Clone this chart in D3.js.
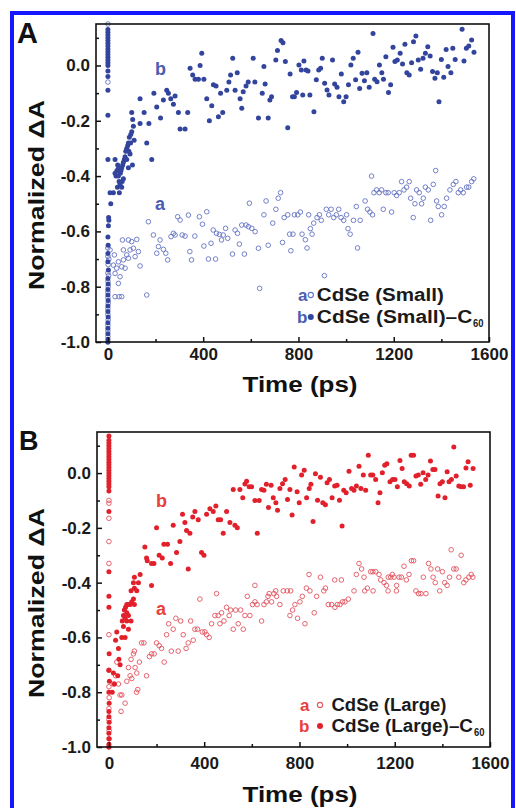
<!DOCTYPE html>
<html><head><meta charset="utf-8">
<script src="https://cdn.jsdelivr.net/npm/d3@7"></script>
<style>
html,body{margin:0;padding:0;background:#fff;}
svg{display:block;}
text{font-family:"Liberation Sans",Arial,Helvetica,sans-serif;font-weight:bold;}
</style>
</head><body><div id="chart"></div>
<script>
// ---------- axis ticks ----------
const timeTicks = [0, 400, 800, 1200, 1600];
const timeMinorTicks = [200, 600, 1000, 1400];
const dATicks = [-1.0, -0.8, -0.6, -0.4, -0.2, 0.0];
const dAMinorTicks = [-0.9, -0.7, -0.5, -0.3, -0.1, 0.1];
const timeDomain = [-50, 1600];
const dADomain = [-1.0, 0.15];

// ---------- legend labels ----------
const legendSmall = ["CdSe (Small)", "CdSe (Small)\u2013C", "60"];
const legendLarge = ["CdSe (Large)", "CdSe (Large)\u2013C", "60"];
const seriesLetters = ["a", "b"];

// ---------- Panel A: CdSe (Small), open circles (a) [time ps, normalized dA] ----------
const smallOpen = [
[0,0.15],[0,-0.06],[0,-0.66],[0,-0.69],[1,-0.72],[0,-0.75],[0,-0.78],[1,-0.80],[0,-0.82],[0,-0.84],[1,-0.86],[0,-0.88],[0,-0.90],[1,-0.92],[0,-0.94],[0,-0.96],[0,-0.98],[0,-1.0],[3,-0.76],[4,-0.70],
[9,-0.667],[27,-0.685],[23,-0.722],[30,-0.752],[37,-0.733],[44,-0.71],[44,-0.788],[51,-0.764],[58,-0.728],[65,-0.703],[72,-0.733],[61,-0.631],[65,-0.667],[86,-0.631],[93,-0.667],[100,-0.637],[107,-0.661],[121,-0.629],[114,-0.691],[86,-0.697],[128,-0.673],[135,-0.725],[30,-0.836],[47,-0.836],[58,-0.836],[79,-0.685],[163,-0.83],[170,-0.565],[191,-0.613],[205,-0.679],[212,-0.655],[219,-0.631],[233,-0.665],[243,-0.679],[251,-0.703],[265,-0.619],[275,-0.607],[282,-0.613],[293,-0.547],[303,-0.559],[312,-0.613],
[324,-0.617],[338,-0.541],[344,-0.673],[351,-0.703],[365,-0.617],[384,-0.547],[397,-0.574],[403,-0.653],[415,-0.529],[422,-0.70],[433,-0.643],[442,-0.595],[452,-0.70],[456,-0.607],[468,-0.611],[477,-0.631],[484,-0.613],[494,-0.589],[503,-0.625],[523,-0.682],[534,-0.595],[544,-0.607],[552,-0.646],[562,-0.577],[573,-0.682],[580,-0.577],[590,-0.583],[594,-0.498],[604,-0.589],[618,-0.601],[632,-0.661],[637,-0.806],
[655,-0.54],[664,-0.49],[673,-0.65],[692,-0.57],[705,-0.52],[715,-0.48],[725,-0.46],[733,-0.64],[740,-0.55],[755,-0.54],[763,-0.61],[768,-0.67],[777,-0.61],[783,-0.54],[797,-0.54],[808,-0.53],[815,-0.61],[829,-0.63],[836,-0.66],[843,-0.54],[850,-0.59],[857,-0.61],[864,-0.57],[878,-0.55],[888,-0.54],[896,-0.56],[909,-0.76],[917,-0.52],[927,-0.54],[937,-0.52],[948,-0.55],[959,-0.54],[969,-0.52],[979,-0.55],[990,-0.56],[1002,-0.54],[1008,-0.59],[1017,-0.61],[1031,-0.56],[1043,-0.51],[1048,-0.66],[1059,-0.56],[1080,-0.49],[1090,-0.52],[1100,-0.53],[1107,-0.40],[1111,-0.54],[1117,-0.46],[1128,-0.45],[1139,-0.46],[1149,-0.45],[1156,-0.52],[1167,-0.46],[1177,-0.46],[1191,-0.53],[1202,-0.46],[1212,-0.47],[1223,-0.46],[1233,-0.42],[1243,-0.45],[1254,-0.44],[1265,-0.42],[1271,-0.48],[1282,-0.55],[1289,-0.50],[1296,-0.45],[1307,-0.46],[1317,-0.50],[1324,-0.48],[1333,-0.44],[1345,-0.45],[1355,-0.56],[1366,-0.43],[1376,-0.38],[1380,-0.49],[1387,-0.51],[1401,-0.54],[1412,-0.51],[1422,-0.48],[1436,-0.45],[1450,-0.43],[1461,-0.42],[1471,-0.46],[1481,-0.45],[1492,-0.46],[1506,-0.44],[1515,-0.44],[1527,-0.42],[1536,-0.41]
];

// ---------- Panel A: CdSe (Small)-C60, filled dots (b) ----------
const smallFilled = [
[0,0.13],[0,0.12],[0,0.11],[0,0.10],[0,0.09],[0,0.08],[0,0.07],[0,0.06],[0,0.05],[0,0.04],[0,0.03],[0,0.02],[0,0.01],[0,0.0],[0,-0.02],[0,-0.04],[0,-0.09],[0,-0.18],[0,-0.34],[9,-0.46],[12,-0.50],[3,-0.55],[4,-0.56],[2,-0.58],[0,-0.62],[1,-0.65],[0,-0.68],[0,-0.71],[2,-0.74],[0,-0.77],[1,-0.79],[0,-0.81],[0,-0.83],[1,-0.85],[0,-0.87],[0,-0.89],[1,-0.91],[0,-0.93],[0,-0.95],[0,-0.97],[0,-0.99],[0,-1.0],
[23,-0.46],[30,-0.34],[41,-0.36],[30,-0.39],[34,-0.40],[44,-0.40],[47,-0.42],[55,-0.38],[58,-0.37],[65,-0.35],[69,-0.34],[75,-0.31],[79,-0.30],[83,-0.29],[86,-0.28],[90,-0.26],[96,-0.25],[100,-0.24],[107,-0.22],[79,-0.34],[86,-0.37],[103,-0.36],[93,-0.32],[51,-0.43],[58,-0.44],[48,-0.46],[65,-0.41],[38,-0.38],[52,-0.39],[62,-0.36],[72,-0.33],[88,-0.31],[95,-0.28],[60,-0.42],[40,-0.44],[45,-0.37],[110,-0.27],
[100,-0.17],[104,-0.195],[135,-0.12],[135,-0.21],[152,-0.17],[163,-0.28],[172,-0.21],[184,-0.34],[193,-0.10],[205,-0.15],[221,-0.19],[233,-0.125],[247,-0.09],[254,-0.10],[264,-0.12],[275,-0.14],[282,-0.11],[296,-0.17],[303,-0.23],[324,-0.23],[335,-0.17],[345,-0.01],[356,-0.034],[366,-0.05],[380,-0.05],[387,0.0],[394,0.044],[403,-0.05],[415,-0.12],[426,-0.20],[436,-0.146],[443,-0.07],[454,-0.074],[464,-0.185],[473,-0.10],[482,-0.17],[499,-0.09],[508,-0.06],[515,-0.034],[524,0.026],[534,-0.09],[543,-0.026],[555,-0.12],[562,-0.155],[568,-0.095],[580,-0.074],[589,-0.06],[610,0.026],[617,-0.06],[632,-0.19],
[648,-0.10],[655,-0.004],[660,-0.067],[673,-0.19],[680,-0.125],[687,-0.113],[705,0.02],[712,0.054],[727,0.09],[735,0.082],[745,0.014],[755,-0.225],[765,-0.031],[775,-0.113],[783,-0.113],[792,-0.098],[802,0.002],[812,-0.016],[818,-0.107],[823,0.016],[832,-0.016],[840,-0.02],[848,-0.107],[865,-0.167],[875,-0.052],[885,-0.016],[893,-0.01],[900,0.026],[910,-0.064],[920,-0.089],[928,-0.107],[943,0.02],[952,-0.067],[962,-0.079],[970,-0.113],[980,-0.031],[990,-0.131],[1000,-0.113],[1010,-0.07],[1020,0.002],[1030,0.026],[1040,-0.052],[1050,0.048],[1057,-0.083],[1067,-0.028],[1077,-0.055],[1087,-0.026],[1097,-0.079],[1113,0.116],[1120,-0.05],[1130,-0.059],[1140,0.002],[1150,-0.026],[1157,-0.05],[1167,0.032],[1178,-0.098],[1187,-0.07],[1197,0.066],[1205,0.014],[1215,0.02],[1227,0.044],[1237,0.005],[1247,0.077],[1255,-0.026],[1265,-0.034],[1275,0.01],[1283,0.086],[1293,0.107],[1303,0.02],[1313,-0.014],[1323,0.026],[1333,0.044],[1343,0.068],[1353,0.034],[1363,-0.022],[1373,-0.046],[1383,-0.026],[1390,-0.131],[1400,0.022],[1410,-0.043],[1420,0.058],[1428,-0.004],[1440,-0.026],[1448,0.062],[1458,0.022],[1487,0.131],[1495,0.016],[1505,0.062],[1515,0.07],[1527,0.092],[1537,0.048]
];

// ---------- Panel B: CdSe (Large), open circles (a) ----------
const largeOpen = [
[0,-0.10],[0,-0.11],[0,-0.165],[0,-0.25],[0,-0.33],[0,-0.59],[0,-0.72],[0,-0.78],[1,-0.82],[0,-0.86],[0,-0.90],[1,-0.94],[0,-0.97],[0,-1.0],
[33,-0.69],[28,-0.74],[19,-0.77],[40,-0.77],[47,-0.81],[54,-0.81],[51,-0.87],[68,-0.84],[75,-0.76],[82,-0.71],[89,-0.74],[96,-0.75],[93,-0.68],[103,-0.66],[107,-0.65],[110,-0.71],[117,-0.73],[121,-0.79],[116,-0.80],[128,-0.69],[137,-0.62],
[147,-0.62],[158,-0.74],[170,-0.67],[179,-0.66],[190,-0.66],[200,-0.62],[211,-0.63],[221,-0.64],[232,-0.69],[242,-0.59],[251,-0.55],[262,-0.65],[270,-0.57],[281,-0.53],[291,-0.65],[301,-0.54],[312,-0.59],
[324,-0.64],[333,-0.62],[343,-0.54],[354,-0.61],[361,-0.57],[372,-0.57],[382,-0.46],[392,-0.58],[403,-0.58],[410,-0.59],[421,-0.60],[431,-0.55],[445,-0.52],[452,-0.44],[459,-0.52],[466,-0.55],[473,-0.51],[483,-0.54],[494,-0.49],[505,-0.52],[511,-0.50],[522,-0.57],[532,-0.50],[543,-0.55],[553,-0.50],[564,-0.57],[571,-0.52],[581,-0.45],[592,-0.52],[603,-0.48],[613,-0.47],
[613,-0.41],[622,-0.48],[641,-0.54],[651,-0.48],[661,-0.47],[668,-0.45],[673,-0.44],[683,-0.47],[693,-0.44],[700,-0.43],[704,-0.45],[718,-0.48],[732,-0.43],[749,-0.43],[760,-0.52],[763,-0.43],[771,-0.50],[781,-0.48],[792,-0.53],[802,-0.47],[812,-0.45],[823,-0.55],[829,-0.42],[840,-0.37],[844,-0.43],[862,-0.51],[872,-0.45],[888,-0.38],[902,-0.43],[909,-0.42],[921,-0.48],[935,-0.48],[948,-0.39],[949,-0.49],[959,-0.48],[970,-0.48],[976,-0.39],[981,-0.47],[991,-0.47],[1005,-0.46],
[1029,-0.43],[1039,-0.37],[1050,-0.33],[1061,-0.35],[1071,-0.38],[1074,-0.43],[1085,-0.42],[1099,-0.36],[1108,-0.36],[1109,-0.43],[1120,-0.36],[1134,-0.37],[1141,-0.39],[1155,-0.40],[1165,-0.41],[1172,-0.43],[1173,-0.38],[1183,-0.38],[1190,-0.37],[1197,-0.38],[1207,-0.43],[1208,-0.41],[1218,-0.38],[1228,-0.38],[1239,-0.34],[1249,-0.39],[1260,-0.37],[1270,-0.32],[1279,-0.32],[1289,-0.43],[1300,-0.44],[1310,-0.44],[1320,-0.38],[1331,-0.44],[1342,-0.33],[1352,-0.35],[1361,-0.38],[1370,-0.40],[1380,-0.35],[1389,-0.43],[1400,-0.36],[1410,-0.40],[1420,-0.41],[1430,-0.38],[1437,-0.28],[1448,-0.35],[1458,-0.35],[1469,-0.38],[1479,-0.30],[1490,-0.40],[1499,-0.39],[1511,-0.38],[1521,-0.37],[1528,-0.38]
];

// ---------- Panel B: CdSe (Large)-C60, filled dots (b) ----------
const largeFilled = [
[0,0.135],[0,0.12],[0,0.11],[0,0.10],[0,0.09],[0,0.08],[0,0.07],[0,0.06],[0,0.05],[0,0.04],[0,0.03],[0,0.02],[0,0.01],[0,0.0],[0,-0.01],[0,-0.02],[0,-0.03],[0,-0.04],[0,-0.05],[0,-0.065],[0,-0.14],[0,-0.36],[0,-0.45],[0,-0.49],[1,-0.66],[0,-0.72],[2,-0.76],[0,-0.80],[1,-0.84],[0,-0.87],[0,-0.89],[1,-0.91],[0,-0.93],[0,-0.95],[1,-0.97],[0,-0.99],[0,-1.0],
[14,-0.80],[19,-0.73],[23,-0.77],[28,-0.61],[33,-0.58],[37,-0.74],[40,-0.64],[42,-0.68],[47,-0.70],[54,-0.60],[68,-0.60],[56,-0.54],[61,-0.52],[65,-0.50],[70,-0.49],[75,-0.48],[82,-0.48],[89,-0.48],[96,-0.47],[103,-0.46],[107,-0.48],[61,-0.56],[75,-0.54],[82,-0.52],[93,-0.54],[82,-0.57],[68,-0.53],[75,-0.51],[93,-0.43],[107,-0.42],[117,-0.43],[103,-0.40],[107,-0.38],[124,-0.40],[131,-0.37],
[151,-0.27],[158,-0.31],[161,-0.32],[179,-0.33],[189,-0.33],[179,-0.41],[200,-0.20],[211,-0.30],[224,-0.31],[231,-0.26],[246,-0.26],[259,-0.33],[270,-0.19],[284,-0.29],[298,-0.25],[309,-0.15],[319,-0.18],[326,-0.21],[333,-0.35],[340,-0.22],[352,-0.16],[361,-0.14],[375,-0.17],[389,-0.29],[399,-0.30],[410,-0.15],[424,-0.13],[438,-0.14],[449,-0.12],[459,-0.17],[469,-0.17],[480,-0.22],[494,-0.14],[508,-0.18],[522,-0.06],[529,-0.19],[539,-0.20],[550,-0.06],[562,-0.09],[571,-0.04],[578,-0.03],[589,-0.05],[599,-0.05],[613,-0.10],[623,-0.22],
[631,-0.10],[641,-0.06],[651,-0.063],[661,-0.041],[670,-0.126],[681,-0.044],[690,-0.09],[701,-0.108],[708,-0.136],[718,-0.056],[729,-0.039],[740,-0.023],[750,-0.096],[760,-0.06],[769,-0.153],[778,0.022],[790,-0.068],[799,-0.108],[809,-0.007],[820,0.01],[830,-0.09],[841,-0.056],[848,-0.041],[857,-0.177],[867,-0.002],[876,-0.099],[888,-0.015],[898,-0.108],[909,-0.116],[916,-0.035],[926,-0.023],[937,-0.09],[948,-0.047],[958,-0.044],[968,-0.099],[979,-0.193],[986,-0.063],[996,-0.072],[1008,0.007],[1019,-0.056],[1029,-0.063],[1039,-0.047],[1050,0.025],[1058,-0.056],[1068,-0.007],[1078,-0.063],[1089,0.065],[1099,-0.007],[1108,-0.007],[1120,-0.023],[1130,-0.108],[1138,-0.072],[1148,0.001],[1158,0.029],[1167,0.034],[1180,-0.032],[1191,-0.023],[1201,-0.023],[1211,-0.05],[1222,0.046],[1231,0.017],[1240,-0.032],[1250,-0.039],[1261,-0.047],[1269,0.065],[1279,0.065],[1289,-0.011],[1299,-0.007],[1309,-0.041],[1319,0.001],[1330,-0.023],[1340,-0.007],[1350,0.044],[1360,0.013],[1369,0.013],[1382,-0.084],[1390,-0.039],[1400,-0.032],[1411,-0.09],[1420,0.005],[1428,-0.032],[1438,-0.023],[1448,0.095],[1458,-0.011],[1469,-0.047],[1479,-0.05],[1489,-0.05],[1499,0.019],[1508,0.041],[1517,-0.044],[1529,0.017]
];

// ---------- drawing ----------
const W = 516, H = 808;
const svg = d3.select("#chart").append("svg").attr("width", W).attr("height", H);
svg.append("rect").attr("width", W).attr("height", H).attr("fill", "#fff");
svg.append("rect").attr("x", 12).attr("y", 13).attr("width", 501).attr("height", 840)
  .attr("fill", "none").attr("stroke", "#1717ff").attr("stroke-width", 4);

const panels = [
  { letter: "A", open: smallOpen, filled: smallFilled, legend: legendSmall,
    fill: "#33449d", stroke: "#6473c2", label: "#4b5cb2",
    box: { l: 96, r: 489, t: 24, b: 342 }, xPad: 6,
    letterPos: [17, 43], letterSize: 29, titleY: 392, yTitleC: 195,
    aPos: [155, 210], bPos: [155, 75],
    lg: { aEnd: 307.5, mx: 310.8, tx: 316.8, y1: 301, y2: 323, len1: 127, len2: 155.5, subX: 473 } },
  { letter: "B", open: largeOpen, filled: largeFilled, legend: legendLarge,
    fill: "#e1202c", stroke: "#e2545f", label: "#e8403c",
    box: { l: 97, r: 490, t: 432, b: 747 }, xPad: 10,
    letterPos: [19, 450], letterSize: 27, titleY: 802, yTitleC: 603,
    aPos: [156, 615], bPos: [156, 507],
    lg: { aEnd: 309.5, mx: 320, tx: 331.5, y1: 711, y2: 732, len1: 115, len2: 141.5, subX: 474 } }
];

panels.forEach(p => {
  const g = svg.append("g");
  const b = p.box;
  const x = d3.scaleLinear().domain(timeDomain).range([b.l, b.r]);
  const y = d3.scaleLinear().domain(dADomain).range([b.b, b.t]);

  // points: open circles then filled dots
  g.append("g").selectAll("circle").data(p.open).join("circle")
    .attr("cx", d => x(d[0])).attr("cy", d => y(d[1])).attr("r", 2.3)
    .attr("fill", "none").attr("stroke", p.stroke).attr("stroke-width", 0.9);
  g.append("g").selectAll("circle").data(p.filled).join("circle")
    .attr("cx", d => x(d[0])).attr("cy", d => y(d[1])).attr("r", 2.5)
    .attr("fill", p.fill);

  // axes
  const xAxis = g.append("g").attr("transform", `translate(0,${b.b})`)
    .call(d3.axisBottom(x).tickValues(timeTicks).tickSizeInner(-5).tickSizeOuter(0)
      .tickPadding(p.xPad).tickFormat(d3.format("d")));
  const xMinor = g.append("g").attr("transform", `translate(0,${b.b})`)
    .call(d3.axisBottom(x).tickValues(timeMinorTicks).tickSizeInner(-3).tickSizeOuter(0).tickFormat(""));
  const yAxis = g.append("g").attr("transform", `translate(${b.l},0)`)
    .call(d3.axisLeft(y).tickValues(dATicks).tickSizeInner(-5).tickSizeOuter(0)
      .tickPadding(6).tickFormat(d => d.toFixed(1)));
  const yMinor = g.append("g").attr("transform", `translate(${b.l},0)`)
    .call(d3.axisLeft(y).tickValues(dAMinorTicks).tickSizeInner(-3).tickSizeOuter(0).tickFormat(""));
  [xAxis, xMinor, yAxis, yMinor].forEach(a => {
    a.select(".domain").remove();
    a.selectAll("line").attr("stroke", "#111").attr("stroke-width", 1.5);
    a.selectAll("text").attr("font-size", 17).attr("fill", "#1a1a1a")
      .attr("font-family", '"Liberation Sans",Arial,sans-serif').attr("font-weight", "bold");
  });

  // frame
  g.append("rect").attr("x", b.l).attr("y", b.t).attr("width", b.r - b.l).attr("height", b.b - b.t)
    .attr("fill", "none").attr("stroke", "#111").attr("stroke-width", 1.6);

  // panel letter
  g.append("text").attr("x", p.letterPos[0]).attr("y", p.letterPos[1])
    .attr("font-size", p.letterSize).attr("fill", "#111").text(p.letter);

  // axis titles
  g.append("text").attr("x", 300).attr("y", p.titleY).attr("text-anchor", "middle")
    .attr("font-size", 22).attr("fill", "#111")
    .attr("textLength", 115).attr("lengthAdjust", "spacingAndGlyphs").text("Time (ps)");
  g.append("text").attr("transform", `translate(44,${p.yTitleC}) rotate(-90)`)
    .attr("text-anchor", "middle").attr("font-size", 22).attr("fill", "#111")
    .attr("textLength", 190).attr("lengthAdjust", "spacingAndGlyphs").text("Normalized \u0394A");

  // curve labels a / b
  g.append("text").attr("x", p.aPos[0]).attr("y", p.aPos[1]).attr("font-size", 18)
    .attr("fill", p.label).text(seriesLetters[0]);
  g.append("text").attr("x", p.bPos[0]).attr("y", p.bPos[1]).attr("font-size", 18)
    .attr("fill", p.label).text(seriesLetters[1]);

  // legend
  const L = p.lg;
  g.append("text").attr("x", L.aEnd).attr("y", L.y1).attr("text-anchor", "end")
    .attr("font-size", 17).attr("fill", p.label).text(seriesLetters[0]);
  g.append("text").attr("x", L.aEnd).attr("y", L.y2).attr("text-anchor", "end")
    .attr("font-size", 17).attr("fill", p.label).text(seriesLetters[1]);
  g.append("circle").attr("cx", L.mx).attr("cy", L.y1 - 6).attr("r", 2.6)
    .attr("fill", "none").attr("stroke", p.stroke).attr("stroke-width", 1.1);
  g.append("circle").attr("cx", L.mx).attr("cy", L.y2 - 6).attr("r", 3).attr("fill", p.fill);
  g.append("text").attr("x", L.tx).attr("y", L.y1).attr("font-size", 17.5).attr("fill", "#1a1a1a")
    .attr("textLength", L.len1).attr("lengthAdjust", "spacingAndGlyphs").text(p.legend[0]);
  g.append("text").attr("x", L.tx).attr("y", L.y2).attr("font-size", 17.5).attr("fill", "#1a1a1a")
    .attr("textLength", L.len2).attr("lengthAdjust", "spacingAndGlyphs").text(p.legend[1]);
  g.append("text").attr("x", L.subX).attr("y", L.y2 + 4).attr("font-size", 11.5).attr("fill", "#1a1a1a")
    .attr("textLength", 10.5).attr("lengthAdjust", "spacingAndGlyphs").text(p.legend[2]);
});
</script>
</body></html>
